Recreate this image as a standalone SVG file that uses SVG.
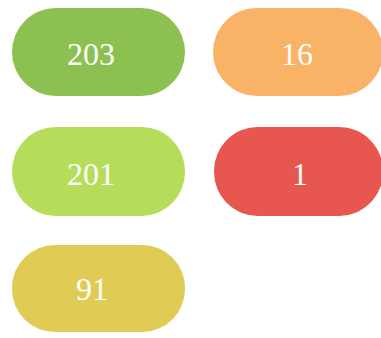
<svg xmlns="http://www.w3.org/2000/svg" width="381" height="338" viewBox="0 0 381 338">
<style>
.p{stroke:none}
.t{font-family:"Liberation Serif","Times New Roman",serif;font-size:32px;fill:#ffffff;text-anchor:middle}
</style>
<rect width="381" height="338" fill="#ffffff"/>
<g id="n203"><rect class="p" x="12" y="8" width="173" height="88" rx="44" fill="#8cc152"/><text class="t" x="91" y="65">203</text></g>
<g id="n16"><rect class="p" x="213" y="8" width="170" height="88" rx="44" fill="#f9b366"/><text class="t" x="297" y="65">16</text></g>
<g id="n201"><rect class="p" x="12" y="127" width="173" height="89" rx="44" fill="#b5dd5a"/><text class="t" x="91" y="185">201</text></g>
<g id="n1"><rect class="p" x="214" y="127" width="169" height="89" rx="44" fill="#e8574f"/><text class="t" x="300" y="185">1</text></g>
<g id="n91"><rect class="p" x="12" y="245" width="173" height="87" rx="43" fill="#e0cc55"/><text class="t" x="92" y="300">91</text></g>
<g id="connectors"></g>
</svg>
